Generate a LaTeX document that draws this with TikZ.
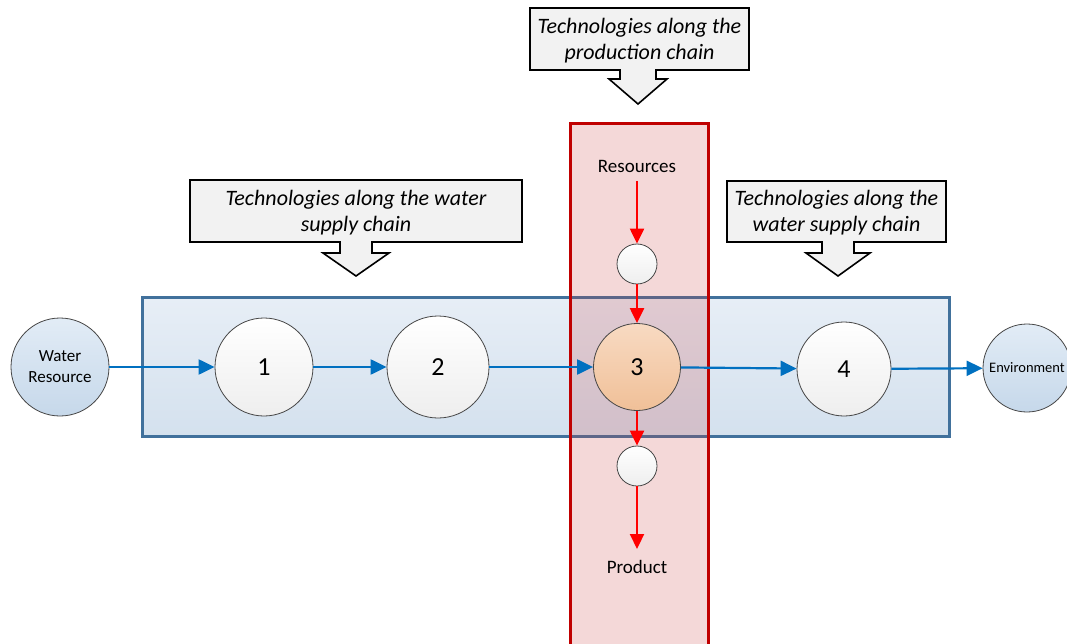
\documentclass[tikz,border=0pt]{standalone}
\usepackage{fontspec}
\setmainfont{Carlito}
\usetikzlibrary{arrows.meta,calc}
\definecolor{bluebd}{RGB}{65,113,156}
\definecolor{boxtop}{RGB}{231,238,246}
\definecolor{boxbot}{RGB}{212,225,238}
\definecolor{redbd}{RGB}{192,0,0}
\definecolor{redfill}{RGB}{200,60,60}
\definecolor{flowblue}{RGB}{0,112,192}
\definecolor{flowred}{RGB}{255,0,0}
\definecolor{circbd}{RGB}{70,70,70}
\definecolor{wrtop}{RGB}{226,236,246}
\definecolor{wrbot}{RGB}{198,216,234}
\definecolor{ortop}{RGB}{248,218,194}
\definecolor{orbot}{RGB}{240,192,152}
\definecolor{calfill}{RGB}{242,242,242}
\begin{document}
\begin{tikzpicture}[x=1pt,y=-1pt,
  circ/.style={circle,draw=circbd,line width=0.8pt,inner sep=0pt,align=center},
  whitecirc/.style={circ,top color=white,bottom color={rgb,255:red,238;green,238;blue,238}},
  endcirc/.style={circ,top color=wrtop,bottom color=wrbot},
  numfont/.style={font=\fontsize{26}{30}\selectfont},
  bflow/.style={draw=flowblue,line width=2.2pt,-{Triangle[length=16pt,width=15pt]}},
  rflow/.style={draw=flowred,line width=2.2pt,-{Triangle[length=15pt,width=14pt]}},
  calbody/.style={draw=black,line width=1.6pt,fill=calfill,line join=miter},
  caltext/.style={font=\itshape\fontsize{22}{26}\selectfont,align=center,inner sep=0pt}
]
\useasboundingbox (0,0) rectangle (1067,644);

% blue chain box
\path[draw=bluebd,line width=3pt,top color=boxtop,bottom color=boxbot]
  (142,297) rectangle (949,436);
% red production box
\path[fill=redfill,fill opacity=0.2] (570,124) rectangle (708,650);
\draw[redbd,line width=3pt] (570,650) -- (570,124) -- (708,124) -- (708,650);

% callouts
\draw[calbody] (530,8) -- (749,8) -- (749,70) -- (656,70) -- (656,79) -- (667,79)
  -- (638,104) -- (609,79) -- (620,79) -- (620,70) -- (530,70) -- cycle;
\node[caltext] (calP) at (639.5,41) {Technologies along the\\production chain};

\draw[calbody] (190,180) -- (522,180) -- (522,242) -- (372,242) -- (372,253) -- (389,253)
  -- (356,276) -- (323,253) -- (340,253) -- (340,242) -- (190,242) -- cycle;
\node[caltext] (calL) at (356,213) {Technologies along the water\\supply chain};

\draw[calbody] (727,181) -- (946,181) -- (946,242) -- (854,242) -- (854,253) -- (870,253)
  -- (838,276) -- (806,253) -- (822,253) -- (822,242) -- (727,242) -- cycle;
\node[caltext] (calR) at (836.5,213) {Technologies along the\\water supply chain};

% circles
\node[endcirc,minimum size=98pt,font=\fontsize{17}{21}\selectfont] (wr) at (60,367) {Water\\Resource};
\node[whitecirc,numfont,minimum size=98pt] (c1) at (264,367) {1};
\node[whitecirc,numfont,minimum size=102pt] (c2) at (438,367) {2};
\node[circ,numfont,top color=ortop,bottom color=orbot,minimum size=87pt] (c3) at (637,367) {3};
\node[whitecirc,numfont,minimum size=94pt] (c4) at (844,369) {4};
\node[endcirc,minimum size=88pt,font=\fontsize{14.5}{17}\selectfont] (env) at (1027,368) {Environment};
\node[whitecirc,minimum size=40pt] (sin) at (637,264) {};
\node[whitecirc,minimum size=40pt] (sout) at (637,466) {};

\node[font=\fontsize{19}{22}\selectfont,inner sep=2pt] (res) at (637,166) {Resources};
\node[font=\fontsize{19}{22}\selectfont,inner sep=2pt] (prod) at (637,567) {Product};
\coordinate (resend) at (637,181);
\coordinate (prodend) at (637,549);

% flows
\draw[bflow] (wr) -- (c1);
\draw[bflow] (c1) -- (c2);
\draw[bflow] (c2) -- (c3);
\draw[bflow] (c3) -- (c4);
\draw[bflow] (c4) -- (env);

\draw[rflow] (resend) -- (sin);
\draw[rflow] (sin) -- (c3);
\draw[rflow] (c3) -- (sout);
\draw[rflow] (sout) -- (prodend);
\end{tikzpicture}
\end{document}
